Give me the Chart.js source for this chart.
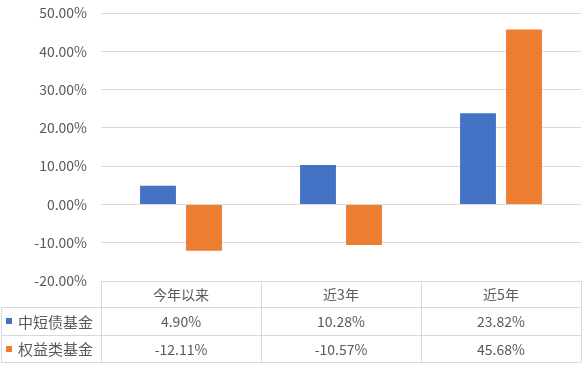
<!DOCTYPE html>
<html>
<head>
<meta charset="utf-8">
<script src="https://cdn.jsdelivr.net/npm/chart.js@4"></script>
<style>
  html, body { margin: 0; padding: 0; background: #fff; }
  #wrap { width: 586px; height: 366px; position: relative; }
</style>
</head>
<body>
<div id="wrap"><canvas id="chart"></canvas></div>
<script>
const categories  = ['今年以来', '近3年', '近5年'];
const seriesNames = ['中短债基金', '权益类基金'];
const shortBond   = [4.90, 10.28, 23.82];
const equity      = [-12.11, -10.57, 45.68];
const yMin = -20, yMax = 50, yStep = 10;

const colors = ['#4472C4', '#ED7D31'];
const textColor = '#595959';
const lineColor = '#d9d9d9';
const font = '"Noto Sans CJK SC", "Noto Sans", sans-serif';

// data table under the plot, columns follow the x scale
const dataTable = {
  id: 'dataTable',
  afterDraw(chart){
    const { ctx, chartArea } = chart;
    const x = chart.scales.x;
    const colW = (chartArea.right - chartArea.left) / categories.length;
    const top = chartArea.bottom;
    const rowH = [26, 28, 27];
    const y1 = top + rowH[0], y2 = y1 + rowH[1], y3 = y2 + rowH[2];
    const series = [shortBond, equity];

    ctx.save();
    ctx.strokeStyle = lineColor;
    ctx.lineWidth = 1;
    ctx.beginPath();
    // horizontal lines
    ctx.moveTo(chartArea.left, top + 0.5); ctx.lineTo(chartArea.right, top + 0.5);
    ctx.moveTo(1, y1 + 0.5); ctx.lineTo(chartArea.right, y1 + 0.5);
    ctx.moveTo(1, y2 + 0.5); ctx.lineTo(chartArea.right, y2 + 0.5);
    ctx.moveTo(1, y3 + 0.5); ctx.lineTo(chartArea.right, y3 + 0.5);
    // vertical lines
    ctx.moveTo(1.5, y1); ctx.lineTo(1.5, y3);
    for(let i = 0; i <= categories.length; i++){
      const xx = Math.round(chartArea.left + colW * i) + 0.5;
      ctx.moveTo(xx, top); ctx.lineTo(xx, y3);
    }
    ctx.stroke();

    ctx.fillStyle = textColor;
    ctx.font = '14px ' + font;
    ctx.textAlign = 'center';
    ctx.textBaseline = 'middle';
    categories.forEach((c, i) => {
      const cx = x.getPixelForValue(i);
      ctx.fillText(c, cx, (top + y1) / 2 + 1);
      ctx.fillText(series[0][i].toFixed(2) + '%', cx, (y1 + y2) / 2 + 1);
      ctx.fillText(series[1][i].toFixed(2) + '%', cx, (y2 + y3) / 2 + 1);
    });

    // legend keys + series names
    const rows = [(y1 + y2) / 2, (y2 + y3) / 2];
    ctx.textAlign = 'left';
    seriesNames.forEach((name, i) => {
      ctx.fillStyle = colors[i];
      ctx.fillRect(6, Math.round(rows[i]) - 3, 6, 6);
      ctx.fillStyle = textColor;
      ctx.font = '15px ' + font;
      ctx.fillText(name, 18, rows[i] + 1);
    });
    ctx.restore();
  }
};

new Chart(document.getElementById('chart'), {
  type: 'bar',
  data: {
    labels: categories,
    datasets: [
      { label: seriesNames[0], data: shortBond, backgroundColor: colors[0],
        categoryPercentage: 0.575, barPercentage: 0.78 },
      { label: seriesNames[1], data: equity, backgroundColor: colors[1],
        categoryPercentage: 0.575, barPercentage: 0.78 }
    ]
  },
  options: {
    responsive: true,
    maintainAspectRatio: false,
    animation: false,
    layout: { padding: { top: 13, right: 5, bottom: 85, left: 0 } },
    plugins: {
      legend: { display: false },
      tooltip: { enabled: false }
    },
    scales: {
      x: {
        grid: { display: false, drawTicks: false },
        border: { display: false },
        ticks: { display: false }
      },
      y: {
        min: yMin, max: yMax,
        afterFit(scale){
          scale.width = 101;
          scale.paddingTop = 0;
          scale.paddingBottom = 0;
        },
        grid: { color: lineColor, drawTicks: false },
        border: { display: false },
        ticks: {
          stepSize: yStep,
          padding: 14,
          color: textColor,
          font: { size: 14, family: font },
          callback: v => v.toFixed(2) + '%'
        }
      }
    }
  },
  plugins: [dataTable]
});
</script>
</body>
</html>
